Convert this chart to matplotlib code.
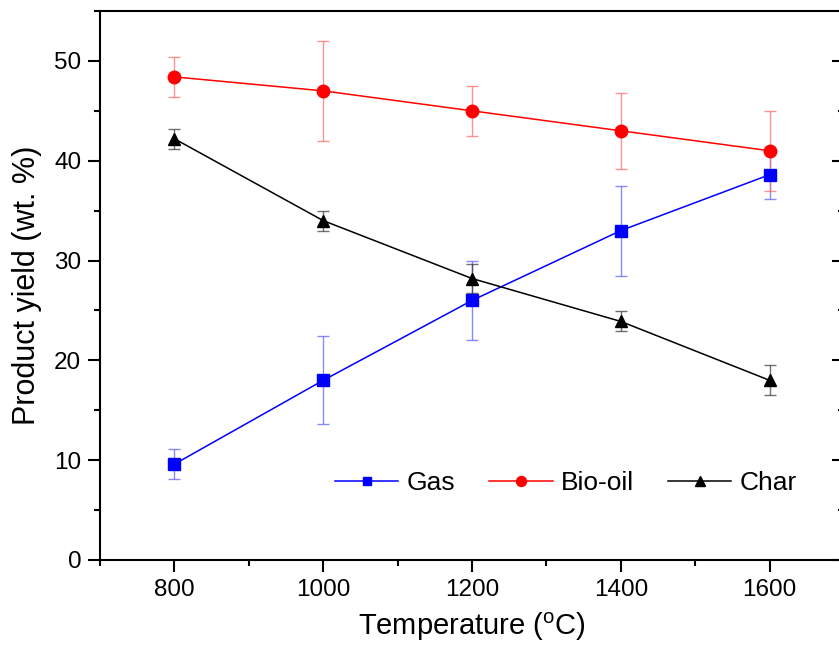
import matplotlib
matplotlib.use("Agg")
import matplotlib.pyplot as plt
from matplotlib.ticker import MultipleLocator

plt.rcParams['font.family'] = ['Liberation Sans', 'DejaVu Sans']
plt.rcParams['mathtext.fontset'] = 'custom'
plt.rcParams['mathtext.rm'] = 'Liberation Sans'

temperature = [800, 1000, 1200, 1400, 1600]
gas = [9.6, 18.0, 26.0, 33.0, 38.6]
gas_err = [1.5, 4.4, 4.0, 4.5, 2.4]
biooil = [48.4, 47.0, 45.0, 43.0, 41.0]
biooil_err = [2.0, 5.0, 2.5, 3.8, 4.0]
char = [42.2, 34.0, 28.2, 23.9, 18.0]
char_err = [1.0, 1.0, 1.5, 1.0, 1.5]

fig = plt.figure(figsize=(8.39, 6.54), dpi=100)
ax = fig.add_axes([100/839, 1-560/654, 744/839, 549/654])

series = [
    (gas, gas_err, 'Gas', '#0000ff', (0.35, 0.35, 1.0, 0.7), 's', 8),
    (biooil, biooil_err, 'Bio-oil', '#ff0000', (1.0, 0.4, 0.4, 0.7), 'o', 9),
    (char, char_err, 'Char', '#000000', (0.2, 0.2, 0.2, 0.7), '^', 9),
]
handles = []
for vals, errs, name, col, ecol, mk, ms in series:
    c = ax.errorbar(temperature, vals, yerr=errs, color=col, ecolor=ecol,
                    elinewidth=1.0, capsize=4, capthick=1.0, marker=mk,
                    markersize=ms, linewidth=1.1, label=name)
    handles.append(c[0])

ax.set_xlim(700, 1700)
ax.set_ylim(0, 55)
ax.xaxis.set_major_locator(MultipleLocator(200))
ax.xaxis.set_minor_locator(MultipleLocator(100))
ax.yaxis.set_major_locator(MultipleLocator(10))
ax.yaxis.set_minor_locator(MultipleLocator(5))

for s in ax.spines.values():
    s.set_linewidth(1.5)
ax.tick_params(axis='both', which='major', direction='out', length=8.5,
               width=1.5, labelsize=17.5, pad=5)
ax.tick_params(axis='both', which='minor', direction='out', length=4,
               width=1.5)
ax.tick_params(axis='y', which='both', right=True)
ax.tick_params(axis='y', which='major', labelright=False)

# right ticks point inward
for t in ax.yaxis.get_major_ticks():
    t.tick2line.set_marker(matplotlib.lines.TICKLEFT)
    t.tick2line.set_markersize(8.5)
for t in ax.yaxis.get_minor_ticks():
    t.tick2line.set_marker(matplotlib.lines.TICKLEFT)
    t.tick2line.set_markersize(4)

ax.set_xlabel(r'Temperature ($^{\mathregular{o}}$C)', fontsize=21, labelpad=7)
ax.set_ylabel('Product yield (wt. %)', fontsize=22, labelpad=9)

leg = ax.legend(handles, [s[2] for s in series], loc='center',
                bbox_to_anchor=(0.626, 0.14), ncol=3,
                frameon=False, fontsize=19, handlelength=2.4,
                handletextpad=0.3, columnspacing=1.3, markerscale=0.8)

fig.savefig('out.png', dpi=100)
